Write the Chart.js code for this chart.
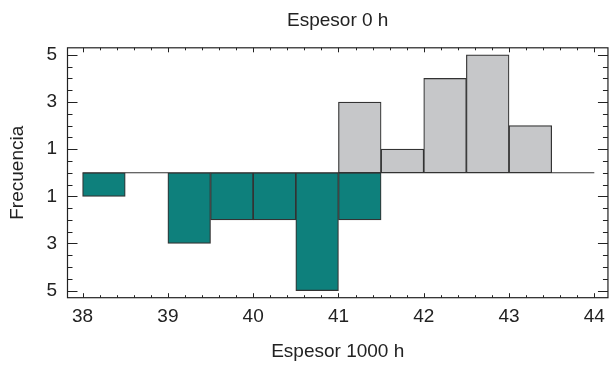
<!DOCTYPE html>
<html><head><meta charset="utf-8">
<script src="https://cdn.jsdelivr.net/npm/chart.js@4.4.1/dist/chart.umd.min.js"></script>
<style>html,body{margin:0;padding:0;background:#fff;} #wrap{width:613px;height:367px;}</style>
</head><body><div id="wrap"><canvas id="c" width="613" height="367"></canvas></div>
<script>
// Data
const binCentersTop = [41.25, 41.75, 42.25, 42.75, 43.25];
const countsTop = [3, 1, 4, 5, 2];               // Espesor 0 h (upward)
const binCentersBottom = [38.25, 39.25, 39.75, 40.25, 40.75, 41.25];
const countsBottom = [1, 3, 2, 2, 5, 2];         // Espesor 1000 h (downward)
const xTickValues = [38, 39, 40, 41, 42, 43, 44];
const yTickValues = [5, 3, 1, -1, -3, -5];
const baselineX = [38, 44];

const FONT = "'Liberation Sans', Arial, Helvetica, sans-serif";
const TXT = '#222';
const FS = 19;

const frameTicks = {
  id: 'frameTicks',
  afterDatasetsDraw(chart) {
    const {ctx, chartArea: a, scales: {x, y}} = chart;
    ctx.save();
    ctx.strokeStyle = '#222';
    ctx.lineWidth = 1.2;
    ctx.strokeRect(a.left, a.top, a.right - a.left, a.bottom - a.top);
    ctx.lineWidth = 1;
    ctx.beginPath();
    for (let k = Math.ceil(x.min * 5); k <= Math.floor(x.max * 5); k++) {
      const v = k / 5;
      const px = Math.round(x.getPixelForValue(v)) + 0.5;
      const L = (k % 5 === 0) ? 4.5 : 2.5;
      ctx.moveTo(px, a.bottom); ctx.lineTo(px, a.bottom - L);
      ctx.moveTo(px, a.top); ctx.lineTo(px, a.top + L);
    }
    for (let k = -10; k <= 10; k++) {
      const v = k / 2;
      const py = Math.round(y.getPixelForValue(v)) + 0.5;
      const L = yTickValues.includes(v) ? 10 : 5;
      ctx.moveTo(a.left, py); ctx.lineTo(a.left + L, py);
      ctx.moveTo(a.right, py); ctx.lineTo(a.right - L, py);
    }
    ctx.stroke();
    ctx.restore();
  }
};

new Chart(document.getElementById('c'), {
  type: 'bar',
  data: {
    datasets: [
      {
        type: 'line',
        data: baselineX.map(v => ({x: v, y: 0})),
        borderColor: '#333', borderWidth: 1.2, pointRadius: 0, order: -1
      },
      {
        type: 'bar',
        data: binCentersTop.map((v, i) => ({x: v, y: countsTop[i]})),
        backgroundColor: '#c6c7c9', borderColor: '#333', borderWidth: 1.2,
        borderSkipped: false, barPercentage: 1, categoryPercentage: 1, grouped: false
      },
      {
        type: 'bar',
        data: binCentersBottom.map((v, i) => ({x: v, y: -countsBottom[i]})),
        backgroundColor: '#0e807c', borderColor: '#333', borderWidth: 1.2,
        borderSkipped: false, barPercentage: 1, categoryPercentage: 1, grouped: false
      }
    ]
  },
  options: {
    responsive: false,
    devicePixelRatio: 1,
    animation: false,
    layout: {padding: {left: 0, right: 2, top: 0, bottom: 0}},
    plugins: {
      legend: {display: false},
      tooltip: {enabled: false},
      title: {
        display: true, text: 'Espesor 0 h', fullSize: false, color: TXT,
        font: {size: FS, family: FONT, weight: 'normal'},
        padding: {top: 9, bottom: 16}
      }
    },
    scales: {
      x: {
        type: 'linear', min: 37.823, max: 44.16, offset: false,
        grid: {display: false, drawTicks: false, offset: false},
        border: {display: false},
        afterBuildTicks: s => { s.ticks = xTickValues.map(v => ({value: v})); },
        afterFit: s => { s.height = 69.3; },
        ticks: {padding: 8, color: TXT, autoSkip: false, maxRotation: 0,
          font: {size: FS, family: FONT}, callback: v => String(v)},
        title: {display: true, text: 'Espesor 1000 h', color: TXT,
          font: {size: FS, family: FONT}, padding: {top: 0, bottom: 4}}
      },
      y: {
        type: 'linear', min: -5.3, max: 5.3,
        grid: {display: false, drawTicks: false},
        border: {display: false},
        afterBuildTicks: s => { s.ticks = yTickValues.map(v => ({value: v})); },
        afterFit: s => { s.width = 67.5; },
        ticks: {padding: 10.5, color: TXT, autoSkip: false,
          font: {size: FS, family: FONT}, callback: v => String(Math.abs(v))},
        title: {display: true, text: 'Frecuencia', color: TXT,
          font: {size: FS, family: FONT}, padding: {top: 6, bottom: 0}}
      }
    }
  },
  plugins: [frameTicks]
});
</script>
</body></html>
